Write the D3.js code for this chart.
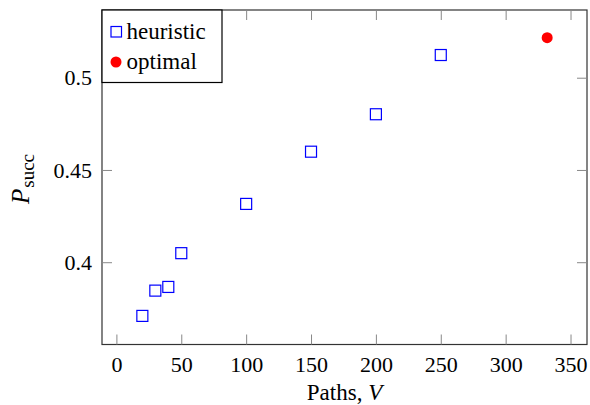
<!DOCTYPE html>
<html>
<head>
    <script src="https://d3js.org/d3.v7.min.js"></script>
    <style>
        body { margin: 0; background: #fff; }
        .axis path { stroke: #333; stroke-width: 1.2; }
        .axis line { stroke: #888; stroke-width: 1; }
    </style>
</head>
<body>
    <svg width="590" height="405"></svg>
    <script>
        // data
        const heuristicV = [20, 30, 40, 50, 100, 150, 200, 250];
        const heuristicP = [0.3709, 0.3846, 0.3866, 0.4049, 0.4316, 0.4599, 0.4802, 0.5123];
        const optimalV = [332];
        const optimalP = [0.5217];
        const xTicks = [0, 50, 100, 150, 200, 250, 300, 350];
        const yTicks = [0.4, 0.45, 0.5];
        const yTickLabels = ["0.4", "0.45", "0.5"];

        const FONT = '"Liberation Serif"';
        const plot = { left: 102, right: 587, top: 10, bottom: 344.5 };

        const svg = d3.select("svg");

        const x = d3.scaleLinear().domain([-11.1, 362.7]).range([plot.left, plot.right]);
        const y = d3.scaleLinear().domain([0.3554, 0.5367]).range([plot.bottom, plot.top]);

        // frame
        svg.append("rect")
            .attr("x", plot.left).attr("y", plot.top)
            .attr("width", plot.right - plot.left).attr("height", plot.bottom - plot.top)
            .attr("fill", "none").attr("stroke", "#333").attr("stroke-width", 1.2);

        // axes, ticks point inside
        svg.append("g").attr("class", "axis")
            .attr("transform", `translate(0,${plot.bottom})`)
            .call(d3.axisBottom(x).tickValues(xTicks).tickSizeInner(-10).tickSizeOuter(0).tickPadding(12))
            .call(g => g.select(".domain").remove());

        svg.append("g").attr("class", "axis")
            .attr("transform", `translate(0,${plot.top})`)
            .call(d3.axisTop(x).tickValues(xTicks).tickSizeInner(-10).tickSizeOuter(0).tickFormat(""))
            .call(g => g.select(".domain").remove());

        svg.append("g").attr("class", "axis")
            .attr("transform", `translate(${plot.left},0)`)
            .call(d3.axisLeft(y).tickValues(yTicks).tickSizeInner(-10).tickSizeOuter(0).tickPadding(10)
                .tickFormat((d, i) => yTickLabels[i]))
            .call(g => g.select(".domain").remove());

        svg.append("g").attr("class", "axis")
            .attr("transform", `translate(${plot.right},0)`)
            .call(d3.axisRight(y).tickValues(yTicks).tickSizeInner(-10).tickSizeOuter(0).tickFormat(""))
            .call(g => g.select(".domain").remove());

        svg.selectAll(".axis text")
            .style("font-family", FONT)
            .style("font-size", "22px")
            .style("fill", "#000");

        // axis titles
        const xt = svg.append("text")
            .attr("x", (plot.left + plot.right) / 2)
            .attr("y", 400)
            .attr("text-anchor", "middle")
            .style("font-family", FONT)
            .style("font-size", "23px");
        xt.append("tspan").text("Paths, ");
        xt.append("tspan").style("font-style", "italic").text("V");

        const yt = svg.append("text")
            .attr("transform", "translate(29,179) rotate(-90)")
            .attr("text-anchor", "middle")
            .style("font-family", FONT)
            .style("font-size", "25px");
        yt.append("tspan").style("font-style", "italic").text("P");
        yt.append("tspan").attr("dy", 5).attr("dx", 1).style("font-size", "19px").text("succ");

        // points
        const heur = heuristicV.map((v, i) => ({ v: v, p: heuristicP[i] }));
        const opt = optimalV.map((v, i) => ({ v: v, p: optimalP[i] }));

        svg.selectAll(".heur")
            .data(heur)
            .enter().append("rect")
            .attr("class", "heur")
            .attr("x", d => x(d.v) - 5.5)
            .attr("y", d => y(d.p) - 5.5)
            .attr("width", 11).attr("height", 11)
            .attr("fill", "none").attr("stroke", "#0000ff").attr("stroke-width", 1.2);

        svg.selectAll(".opt")
            .data(opt)
            .enter().append("circle")
            .attr("class", "opt")
            .attr("cx", d => x(d.v))
            .attr("cy", d => y(d.p))
            .attr("r", 5.5)
            .attr("fill", "#ff0000");

        // legend
        const lg = svg.append("g").attr("transform", `translate(${plot.left},${plot.top})`);
        lg.append("rect")
            .attr("width", 120).attr("height", 72.5)
            .attr("fill", "#fff").attr("stroke", "#000").attr("stroke-width", 1.2);
        lg.append("rect")
            .attr("x", 9).attr("y", 16.5).attr("width", 10.5).attr("height", 10.5)
            .attr("fill", "none").attr("stroke", "#0000ff").attr("stroke-width", 1.2);
        lg.append("circle")
            .attr("cx", 14).attr("cy", 52).attr("r", 5.5).attr("fill", "#ff0000");
        lg.selectAll(".lgtext")
            .data(["heuristic", "optimal"])
            .enter().append("text")
            .attr("class", "lgtext")
            .attr("x", 24.5)
            .attr("y", (d, i) => 29 + i * 30)
            .style("font-family", FONT)
            .style("font-size", "23px")
            .text(d => d);
    </script>
</body>
</html>
